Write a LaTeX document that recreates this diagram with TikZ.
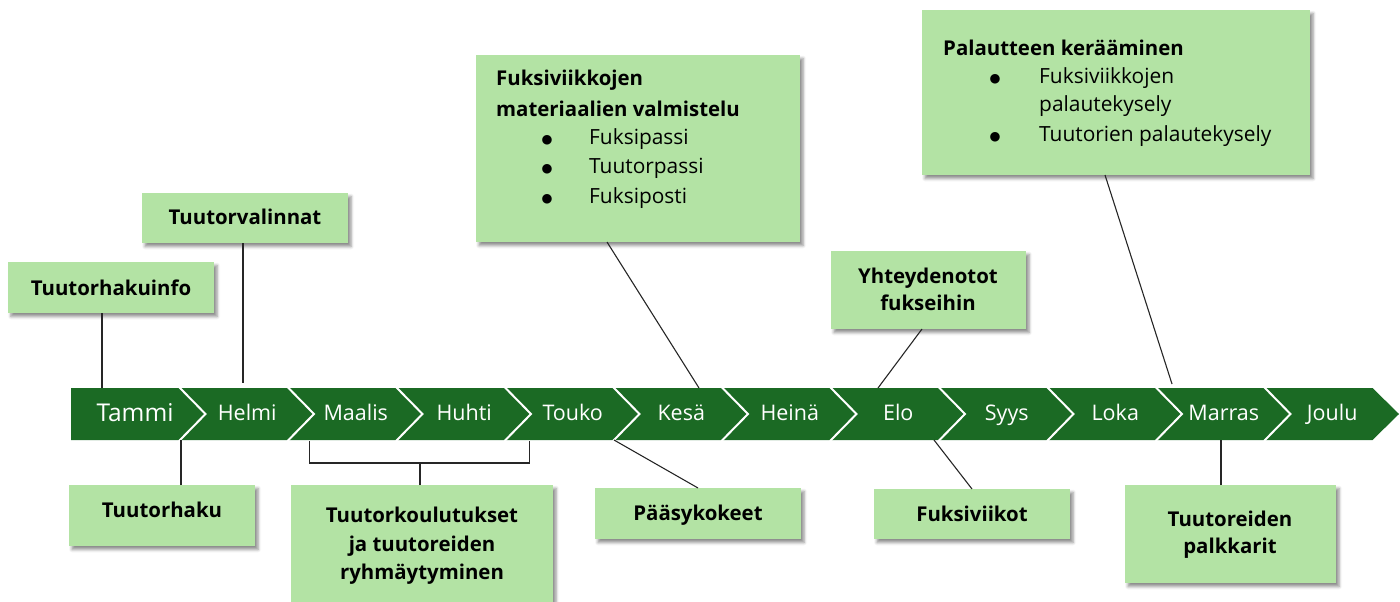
\documentclass[tikz,border=0pt]{standalone}
\usepackage{fontspec}
\setmainfont{Open Sans}
\newfontfamily\dotfont{DejaVu Sans}
\usetikzlibrary{shadows.blur}
\definecolor{bandgreen}{HTML}{1B6A24}
\definecolor{boxgreen}{HTML}{B3E3A4}
\begin{document}
\begin{tikzpicture}[x=1pt,y=-1pt,
  box/.style={fill=boxgreen, draw=none, inner sep=0pt, outer sep=0pt, anchor=north west,
    blur shadow={shadow xshift=3pt, shadow yshift=-3.5pt, shadow blur radius=3pt, shadow opacity=45}},
  ttl/.style={font=\fontsize{20.4}{27.5}\selectfont\bfseries, align=center, inner sep=0pt},
  hdr/.style={font=\fontsize{20.4}{28}\selectfont\bfseries, inner sep=0pt, anchor=west},
  itm/.style={font=\fontsize{20.9}{28}\selectfont, inner sep=0pt, anchor=west},
  bul/.style={font=\dotfont\fontsize{12.5}{12.5}\selectfont, inner sep=0pt},
  mon/.style={text=white, font=\fontsize{21.5}{24}\selectfont, inner sep=0pt, anchor=base},
  link/.style={draw=black!85, line width=1.1pt},
  sep/.style={draw=white, line width=2pt}]
\useasboundingbox (0,0) rectangle (1400,602);

% ---- timeline band ----
\fill[bandgreen] (71,388) -- (179,388) -- (205.5,414) -- (179,440) -- (71,440) -- cycle;
\foreach \i in {1,...,11}{
  \pgfmathsetmacro{\L}{179+108.5*(\i-1)}
  \pgfmathsetmacro{\R}{\L+108.5}
  \fill[bandgreen] (\L,388) -- (\R,388) -- (\R+26.5,414) -- (\R,440) -- (\L,440) -- (\L+26.5,414) -- cycle;
}
\foreach \i in {1,...,11}{
  \pgfmathsetmacro{\L}{179+108.5*(\i-1)}
  \draw[sep] (\L,387) -- (\L+26.5,414) -- (\L,441);
}
\node[mon, font=\fontsize{24.5}{27}\selectfont] (m0) at (135,421) {Tammi};
\foreach \n [count=\i] in {Helmi,Maalis,Huhti,Touko,Kesä,Heinä,Elo,Syys,Loka,Marras,Joulu}{
  \pgfmathsetmacro{\C}{179+108.5*(\i-1)+54.25+14}
  \node[mon] (m\i) at (\C,420) {\n};
}

% ---- boxes ----
\node[box, minimum width=206pt, minimum height=51pt] (b1) at (8,262) {};
\node[box, minimum width=206pt, minimum height=50pt] (b2) at (142,193) {};
\node[box, minimum width=324pt, minimum height=187pt] (b3) at (476,55) {};
\node[box, minimum width=195pt, minimum height=78pt] (b4) at (831,251) {};
\node[box, minimum width=388pt, minimum height=165pt] (b5) at (922,10) {};
\node[box, minimum width=186pt, minimum height=61pt] (b6) at (69,485) {};
\node[box, minimum width=262pt, minimum height=117pt] (b7) at (291,485) {};
\node[box, minimum width=206pt, minimum height=51pt] (b8) at (595,488) {};
\node[box, minimum width=196pt, minimum height=50pt] (b9) at (874,489) {};
\node[box, minimum width=211pt, minimum height=98pt] (b10) at (1125,485) {};

% ---- box texts ----
\node[ttl] (t1) at (111,288) {Tuutorhakuinfo};
\node[ttl] (t2) at (245,217) {Tuutorvalinnat};
\node[ttl] (t4) at (928,289.5) {Yhteydenotot\\[-0.5pt]fukseihin};
\node[ttl] (t6) at (162,510) {Tuutorhaku};
\node[ttl] (t7) at (422,546) {Tuutorkoulutukset\\[1pt]ja tuutoreiden\\[1pt]ryhmäytyminen};
\node[ttl] (t8) at (698,515) {Pääsykokeet};
\node[ttl] (t9) at (972,514) {Fuksiviikot};
\node[ttl] (t10) at (1230,535) {Tuutoreiden\\[-0.5pt]palkkarit};

\node[hdr] (h3a) at (496,80) {Fuksiviikkojen};
\node[hdr] (h3b) at (496,109) {materiaalien valmistelu};
\node[bul] (d3a) at (547,140) {●};
\node[bul] (d3b) at (547,169) {●};
\node[bul] (d3c) at (547,199) {●};
\node[itm] (i3a) at (589,139) {Fuksipassi};
\node[itm] (i3b) at (589,168) {Tuutorpassi};
\node[itm] (i3c) at (589,198) {Fuksiposti};

\node[hdr] (h5) at (943,48) {Palautteen kerääminen};
\node[bul] (d5a) at (995,79) {●};
\node[bul] (d5b) at (995,137) {●};
\node[itm] (i5a) at (1039,78) {Fuksiviikkojen};
\node[itm] (i5b) at (1039,106) {palautekysely};
\node[itm] (i5c) at (1039,136) {Tuutorien palautekysely};

% ---- connector ends on the band ----
\coordinate (a1) at (102,388);
\coordinate (a2) at (243,383);
\coordinate (a3) at (699,388);
\coordinate (a4) at (878,388);
\coordinate (a5) at (1172,384);
\coordinate (a6) at (181,440);
\coordinate (a7) at (420,463);
\coordinate (br1) at (309.5,441);
\coordinate (br2) at (529.5,441);
\coordinate (a8) at (614,440);
\coordinate (a9) at (934,440);
\coordinate (a10) at (1221,440);

% ---- connectors ----
\draw[link] ([xshift=-9pt]b1.south) -- (a1);
\draw[link] ([xshift=-2pt]b2.south) -- (a2);
\draw[link] ([xshift=-31pt]b3.south) -- (a3);
\draw[link] ([xshift=-6.5pt]b4.south) -- (a4);
\draw[link] ([xshift=-11pt]b5.south) -- (a5);
\draw[link] ([xshift=19pt]b6.north) -- (a6);
\draw[link] (br1) -- (br1 |- a7) -- (br2 |- a7) -- (br2);
\draw[link] ([xshift=-2pt]b7.north) -- (a7);
\draw[link] (b8.north) -- (a8);
\draw[link] (b9.north) -- (a9);
\draw[link] ([xshift=-9.5pt]b10.north) -- (a10);
\end{tikzpicture}
\end{document}
